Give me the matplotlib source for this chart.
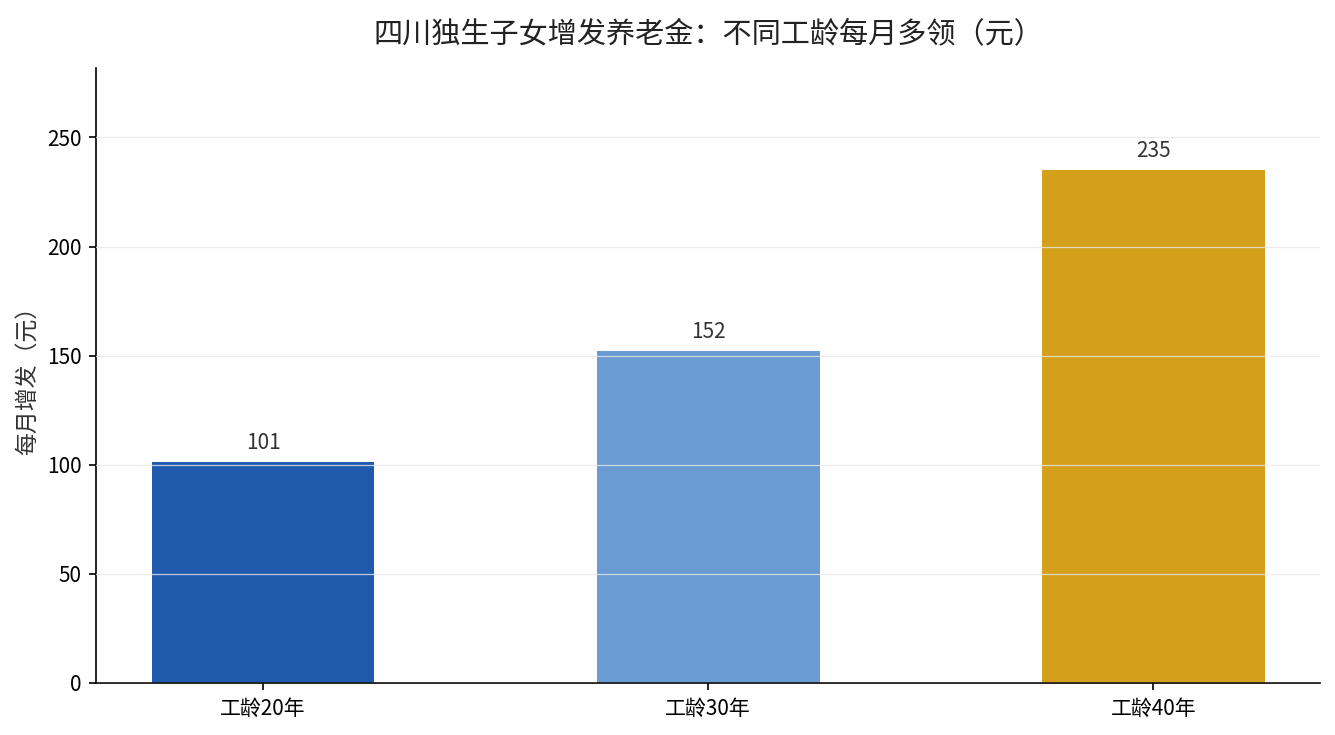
import matplotlib
matplotlib.use('Agg')
import matplotlib.pyplot as plt

plt.rcParams['font.family'] = ['Noto Sans CJK SC', 'DejaVu Sans']

categories = ['工龄20年', '工龄30年', '工龄40年']
values = [101, 152, 235]
colors = ['#1f5aad', '#6b9bd3', '#d4a01b']

fig = plt.figure(figsize=(8.9, 4.9), dpi=150)
ax = fig.add_axes([0.072, 0.071, 0.917, 0.837])

x = range(len(categories))
bars = ax.bar(x, values, width=0.5, color=colors)

for b, v in zip(bars, values):
    ax.annotate(f'{v}', (b.get_x() + b.get_width() / 2, v),
                xytext=(0, 4), textcoords='offset points',
                ha='center', va='bottom', fontsize=10, color='#333333')

ax.set_xticks(list(x))
ax.set_xticklabels(categories, fontsize=10)
ax.tick_params(axis='y', labelsize=10)
ax.set_xlim(-0.375, 2.375)
ax.set_ylim(0, max(values) * 1.2)
ax.set_ylabel('每月增发（元）', fontsize=11, color='#333333')
ax.set_title('四川独生子女增发养老金：不同工龄每月多领（元）', fontsize=14, color='#222222', pad=12)

ax.set_axisbelow(False)
ax.yaxis.grid(True, color='#e8e8e8', linewidth=0.6, alpha=0.8)
ax.spines['top'].set_visible(False)
ax.spines['right'].set_visible(False)

plt.savefig('out.png', dpi=150)
